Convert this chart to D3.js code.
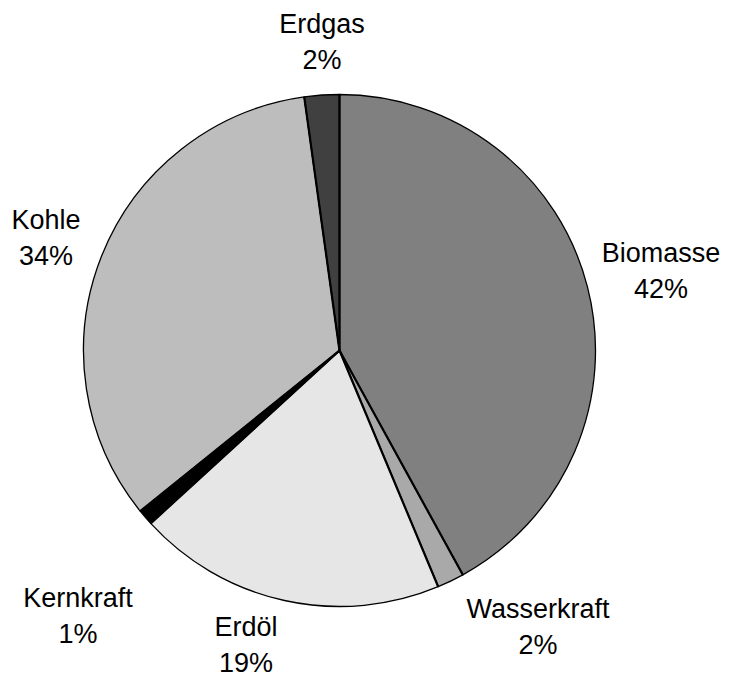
<!DOCTYPE html>
<html>
<head>
<meta charset="utf-8">
<script src="https://cdn.jsdelivr.net/npm/d3@7"></script>
<style>
  html, body { margin: 0; padding: 0; background: #ffffff; }
  svg { display: block; }
</style>
</head>
<body>
<svg id="chart" width="731" height="679"></svg>
<script>
const categories = ["Biomasse", "Wasserkraft", "Erdöl", "Kernkraft", "Kohle", "Erdgas"];
const values = [42.0, 1.7, 19.5, 1.0, 33.6, 2.2];
const percentLabels = ["42%", "2%", "19%", "1%", "34%", "2%"];
const colors = ["#808080", "#a9a9a9", "#e6e6e6", "#000000", "#bdbdbd", "#404040"];
const labelPos = [[661, 253], [538, 609], [246, 627], [78, 598], [46, 220], [322, 24]];

const svg = d3.select("#chart");
const cx = 339.5, cy = 350.5, r = 256;
const g = svg.append("g").attr("transform", `translate(${cx},${cy})`);

const pie = d3.pie().sort(null).value(d => d.v);
const data = categories.map((c, i) => ({ name: c, v: values[i], color: colors[i], pct: percentLabels[i], pos: labelPos[i] }));
const arcs = pie(data);
const arc = d3.arc().innerRadius(0).outerRadius(r);

g.selectAll("path.slice").data(arcs).enter().append("path")
  .attr("class", "slice")
  .attr("d", arc)
  .attr("fill", d => d.data.color)
  .attr("stroke", "#000")
  .attr("stroke-width", 1.3)
  .attr("stroke-linejoin", "round");

g.selectAll("line.sep").data(arcs).enter().append("line")
  .attr("class", "sep")
  .attr("x1", 0).attr("y1", 0)
  .attr("x2", d => r * Math.sin(d.startAngle))
  .attr("y2", d => -r * Math.cos(d.startAngle))
  .attr("stroke", "#000")
  .attr("stroke-width", 2.2);

const lbl = svg.selectAll("text.lbl").data(data).enter().append("text")
  .attr("class", "lbl")
  .attr("text-anchor", "middle")
  .attr("font-family", "Liberation Sans, Arial, sans-serif")
  .attr("font-size", 27)
  .attr("fill", "#000");
lbl.append("tspan").attr("x", d => d.pos[0]).attr("y", d => d.pos[1]).attr("dy", "0.35em").text(d => d.name);
lbl.append("tspan").attr("x", d => d.pos[0]).attr("y", d => d.pos[1] + 36).attr("dy", "0.35em").text(d => d.pct);
</script>
</body>
</html>
